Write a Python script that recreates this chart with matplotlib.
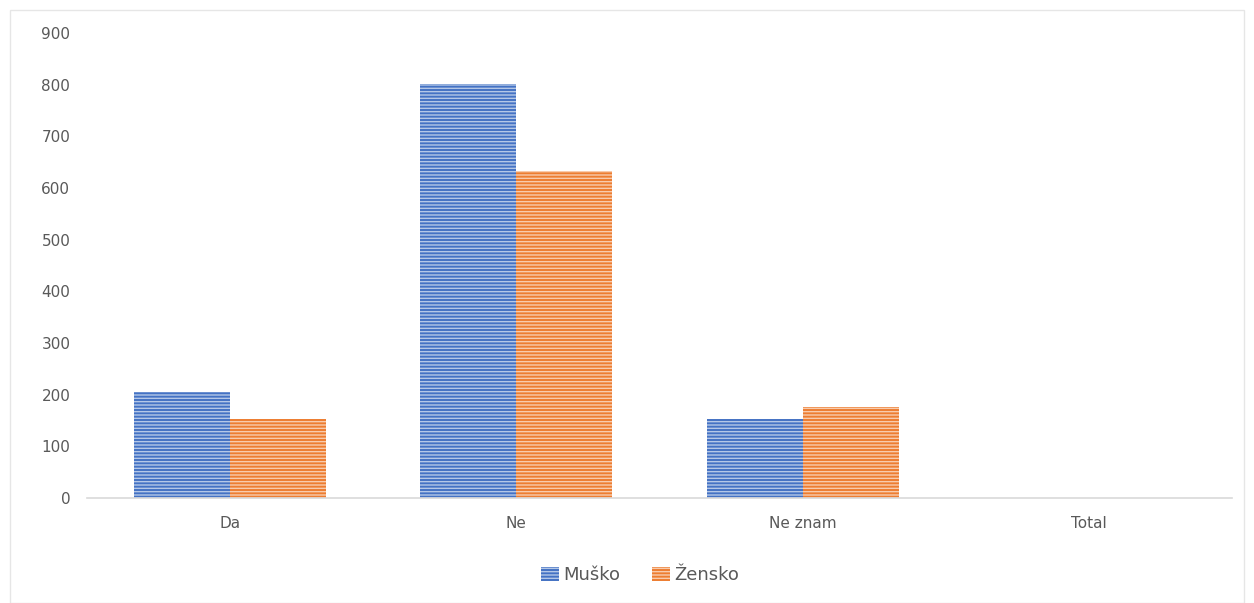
import matplotlib
matplotlib.use('Agg')
import matplotlib.pyplot as plt
import numpy as np
from matplotlib.patches import Rectangle

plt.rcParams['font.family'] = ['DejaVu Sans']
plt.rcParams['hatch.linewidth'] = 1.0

categories = ['Da', 'Ne', 'Ne znam', 'Total']
musko = [205, 801, 152, 0]
zensko = [152, 633, 176, 0]
series_names = ['Muško', 'Žensko']

BLUE = '#4472C4'
ORANGE = '#ED7D31'

fig = plt.figure(figsize=(12.54, 6.03), dpi=100)
ax = fig.add_axes([87 / 1254, 1 - 498 / 603, (1232 - 87) / 1254, 465 / 603])

x = np.arange(len(categories))
w = 0.335
b1 = ax.bar(x - w / 2, musko, w, color=BLUE, edgecolor='#B4C7E7', hatch='-----',
            linewidth=0, label=series_names[0])
b2 = ax.bar(x + w / 2, zensko, w, color=ORANGE, edgecolor='#F8CBAD', hatch='-----',
            linewidth=0, label=series_names[1])

ax.set_xlim(-0.5, 3.5)
ax.set_ylim(0, 900)
ax.set_yticks(range(0, 901, 100))
ax.set_xticks(x)
ax.set_xticklabels(categories)
ax.tick_params(axis='both', length=0, colors='#595959', labelsize=11)
ax.tick_params(axis='y', pad=12)
ax.tick_params(axis='x', pad=13)
for s in ['top', 'right', 'left']:
    ax.spines[s].set_visible(False)
ax.spines['bottom'].set_color('#D9D9D9')
ax.spines['bottom'].set_linewidth(1.2)

leg = fig.legend(handles=[b1, b2], labels=series_names, loc='center',
                 bbox_to_anchor=(640 / 1254, 1 - 575 / 603), ncol=2, frameon=False,
                 fontsize=13, handlelength=1.0, handleheight=0.8, handletextpad=0.2,
                 columnspacing=1.8, labelcolor='#595959')

# light frame around the chart area
fig.patches.append(Rectangle((10 / 1254, 0.0), 1 - 20 / 1254, 1 - 10 / 603,
                             transform=fig.transFigure, fill=False,
                             edgecolor='#E6E6E6', linewidth=1))

fig.savefig('out.png', dpi=100)
